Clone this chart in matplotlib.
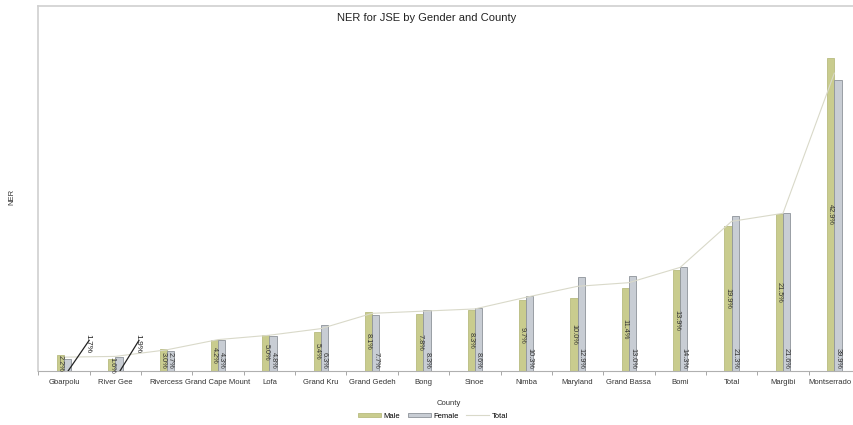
import matplotlib
matplotlib.use("Agg")
import matplotlib.pyplot as plt
import matplotlib.transforms as mtransforms
import numpy as np

plt.rcParams['font.family'] = ['Liberation Sans', 'DejaVu Sans']

counties = ['Gbarpolu', 'River Gee', 'Rivercess', 'Grand Cape Mount', 'Lofa', 'Grand Kru',
            'Grand Gedeh', 'Bong', 'Sinoe', 'Nimba', 'Maryland', 'Grand Bassa', 'Bomi',
            'Total', 'Margibi', 'Montserrado']
male = [2.2, 1.6, 3.0, 4.2, 5.0, 5.4, 8.1, 7.8, 8.3, 9.7, 10.0, 11.4, 13.9, 19.9, 21.5, 42.9]
female = [1.7, 1.9, 2.7, 4.3, 4.8, 6.3, 7.7, 8.3, 8.6, 10.3, 12.9, 13.0, 14.3, 21.3, 21.6, 39.9]
total = [1.9, 2.0, 2.9, 4.3, 4.9, 5.8, 7.9, 8.2, 8.5, 10.1, 11.6, 12.1, 14.2, 20.5, 21.6, 40.8]

male_c = '#c9cc8e'
female_c = '#c8cdd4'
line_c = '#d9d9c9'

fig = plt.figure(figsize=(8.54, 4.25), dpi=100)
ax = fig.add_axes([38.3 / 854, 1 - 371 / 425, (860 - 38.3) / 854, (371 - 6) / 425])

x = np.arange(len(counties))
w = 0.14
hm = ax.bar(x - w / 2, male, w, color=male_c, edgecolor='#b9bc80', linewidth=0.6, label='Male', zorder=2)
hf = ax.bar(x + w / 2, female, w, color=female_c, edgecolor='#8e939a', linewidth=0.6, label='Female', zorder=2)
ht, = ax.plot(x, total, color=line_c, linewidth=0.8, label='Total', zorder=3)

# data labels
for i in range(len(counties)):
    ax.text(x[i] - w / 2, male[i] / 2, f'{male[i]:.1f}%', rotation=-90, ha='center', va='center',
            fontsize=5.3, color='#333333', zorder=4)
    if i < 2:
        continue
    ax.text(x[i] + w / 2, 0.25, f'{female[i]:.1f}%', rotation=-90, ha='center', va='bottom',
            fontsize=5.3, color='#333333', zorder=4)

# moved labels with leader lines
for i, lx, tx in [(0, 0.08, 0.47), (1, 0.09, 0.44)]:
    ax.plot([x[i] + lx, x[i] + tx + 0.02], [0, 4.2], color='#222222', linewidth=0.9, zorder=5)
    ax.text(x[i] + tx, 3.8, f'{female[i]:.1f}%', rotation=-90, ha='center', va='center',
            fontsize=6, color='#222222', zorder=5)

ax.set_xlim(-0.5, len(counties) - 0.5)
ax.set_ylim(0, 50)
ax.set_yticks([])
ax.set_xticks(x)
ax.set_xticklabels(counties, fontsize=5.5, color='#333333')
ax.set_xticks(np.arange(-0.5, len(counties), 1), minor=True)
ax.tick_params(axis='x', which='major', length=0, pad=6)
ax.tick_params(axis='x', which='minor', length=3, color='#999999', width=0.6)

# last label sits at the edge, nudge it left so it stays in the picture
last = ax.get_xticklabels()[-1]
last.set_transform(last.get_transform() + mtransforms.ScaledTranslation(-4 / 100, 0, fig.dpi_scale_trans))

ax.spines['right'].set_visible(False)
ax.spines['left'].set_color('#d0d0d0')
ax.spines['top'].set_color('#d0d0d0')
ax.spines['bottom'].set_color('#b0b0b0')
for s in ['left', 'top']:
    ax.spines[s].set_linewidth(1.2)
ax.spines['bottom'].set_linewidth(0.8)

ax.set_xlabel('County', fontsize=5.5, color='#333333', labelpad=10)
fig.text(12 / 854, 1 - 197 / 425, 'NER', rotation=90, fontsize=5.5, color='#333333',
         ha='center', va='center')
fig.text(427 / 854, 1 - 18 / 425, 'NER for JSE by Gender and County', fontsize=8,
         color='#222222', ha='center', va='center')

fig.legend(handles=[hm, hf, ht], labels=['Male', 'Female', 'Total'], loc='center',
           bbox_to_anchor=(433 / 854, 1 - 416 / 425), ncol=3, frameon=False,
           fontsize=5.5, handlelength=3, handleheight=0.5, columnspacing=1.0, handletextpad=0.3)

fig.savefig('out.png', dpi=100)
